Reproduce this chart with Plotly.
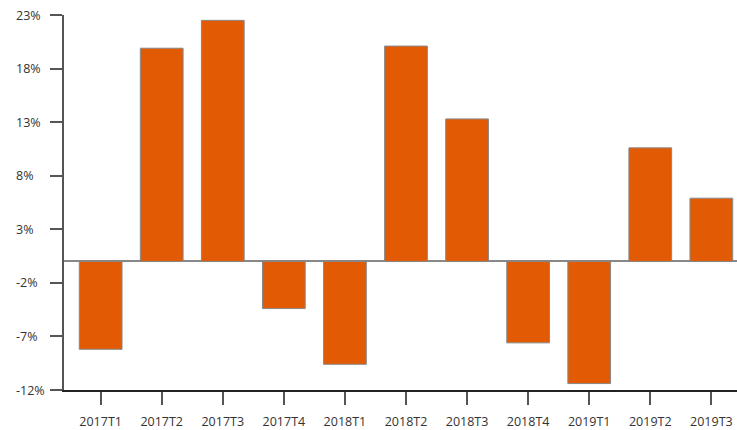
import plotly.graph_objects as go

periodos = ["2017T1", "2017T2", "2017T3", "2017T4", "2018T1", "2018T2",
            "2018T3", "2018T4", "2019T1", "2019T2", "2019T3"]
variacion = [-8.2, 19.9, 22.5, -4.4, -9.6, 20.1, 13.3, -7.6, -11.4, 10.6, 5.9]
y_ticks = [-12, -7, -2, 3, 8, 13, 18, 23]

fig = go.Figure()
fig.add_trace(go.Bar(
    x=periodos, y=variacion,
    marker=dict(color="#E35A05", line=dict(color="#888888", width=1)),
    width=0.7,
    hoverinfo="x+y",
))

# etiquetas del eje y alineadas a la izquierda
for v in y_ticks:
    fig.add_annotation(x=0, y=v, xref="paper", yref="y", text=f"{v}%",
                       showarrow=False, xanchor="left", xshift=-50,
                       font=dict(family="Open Sans", size=12.5, color="#333333"))

fig.update_layout(
    width=737, height=430,
    margin=dict(l=64, r=0, t=15, b=38),
    paper_bgcolor="white", plot_bgcolor="white",
    font=dict(family="Open Sans", size=12.5, color="#333333"),
    showlegend=False,
)
fig.update_xaxes(
    type="category", range=[-0.6, 10.42],
    showline=True, linecolor="#222222", linewidth=1.5,
    ticks="outside", ticklen=13, tickcolor="#555555", tickwidth=1.5,
    showgrid=False, ticklabelstandoff=6,
)
fig.update_yaxes(
    range=[-12, 23], tickvals=y_ticks, showticklabels=False,
    showline=True, linecolor="#555555", linewidth=2,
    ticks="outside", ticklen=12, tickcolor="#555555", tickwidth=1.5,
    showgrid=False, zeroline=True, zerolinecolor="#888888", zerolinewidth=1.5,
)

# quitar el margen por defecto del body
fig.write_html("out.html", config={"displayModeBar": False},
               post_script="document.body.style.margin='0';"
                           "document.body.style.overflow='hidden';")
